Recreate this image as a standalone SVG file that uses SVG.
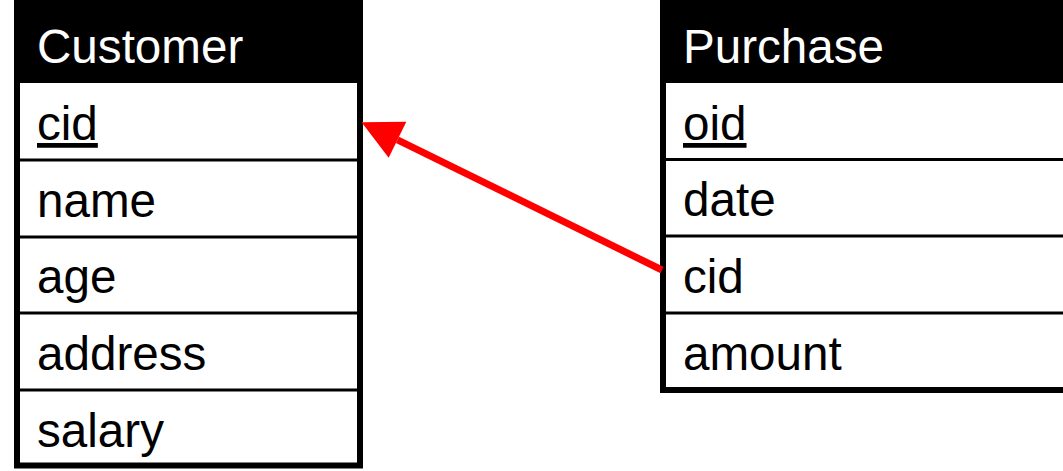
<svg xmlns="http://www.w3.org/2000/svg" width="1063" height="471" viewBox="0 0 1063 471">
  <style>
    .frame { fill: #ffffff; stroke: #000000; stroke-width: 6; }
    .head { fill: #000000; }
    .sep { stroke: #000000; stroke-width: 3; }
    .title { font-family: "Liberation Sans", Arial, sans-serif; font-size: 47.6px; fill: #ffffff; }
    .attr { font-family: "Liberation Sans", Arial, sans-serif; font-size: 47.6px; fill: #000000; }
    .key { text-decoration: underline; }
    .fk { stroke: #ff0000; stroke-width: 7; fill: none; }
  </style>
  <defs>
    <marker id="arrowhead" markerUnits="userSpaceOnUse" markerWidth="40" markerHeight="40" refX="0" refY="20" orient="auto" overflow="visible">
      <path d="M0,0 L40,20 L0,40 Z" fill="#ff0000"/>
    </marker>
  </defs>

  <!-- Customer table -->
  <g id="customer">
    <rect class="frame" x="17" y="3" width="343" height="462.5"/>
    <rect class="head" x="14" y="3" width="349" height="80"/>
    <line class="sep" x1="17" y1="160" x2="360" y2="160"/>
    <line class="sep" x1="17" y1="237" x2="360" y2="237"/>
    <line class="sep" x1="17" y1="313" x2="360" y2="313"/>
    <line class="sep" x1="17" y1="390" x2="360" y2="390"/>
    <text class="title" x="37" y="63">Customer</text>
    <text class="attr key" x="37" y="140">cid</text>
    <text class="attr" x="37" y="217">name</text>
    <text class="attr" x="37" y="293">age</text>
    <text class="attr" x="37" y="370">address</text>
    <text class="attr" x="37" y="447">salary</text>
  </g>

  <!-- Purchase table -->
  <g id="purchase">
    <rect class="frame" x="663" y="3" width="420" height="387"/>
    <rect class="head" x="660" y="3" width="420" height="80"/>
    <line class="sep" x1="663" y1="159.5" x2="1080" y2="159.5"/>
    <line class="sep" x1="663" y1="236" x2="1080" y2="236"/>
    <line class="sep" x1="663" y1="313" x2="1080" y2="313"/>
    <text class="title" x="683" y="63">Purchase</text>
    <text class="attr key" x="683" y="140">oid</text>
    <text class="attr" x="683" y="216">date</text>
    <text class="attr" x="683" y="293">cid</text>
    <text class="attr" x="683" y="370">amount</text>
  </g>

  <!-- Foreign key reference: Purchase.cid -> Customer.cid -->
  <g id="connectors">
    <line class="fk" x1="662" y1="270" x2="397.5" y2="139.8" marker-end="url(#arrowhead)"/>
  </g>
</svg>
